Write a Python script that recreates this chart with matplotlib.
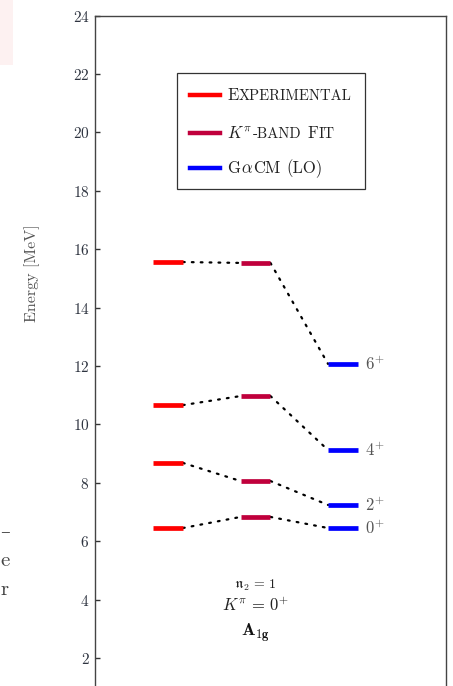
import matplotlib
matplotlib.use("Agg")
import matplotlib.pyplot as plt
from matplotlib.transforms import IdentityTransform
from matplotlib.patches import Rectangle

plt.rcParams["font.family"] = ["cmr10", "DejaVu Serif"]
plt.rcParams["mathtext.fontset"] = "cm"
plt.rcParams["axes.formatter.use_mathtext"] = True

# Level energies (MeV) for the A1g band, n2 = 1, K^pi = 0+
spins = ["0", "2", "4", "6"]
experimental = [6.45, 8.68, 10.66, 15.56]
band_fit = [6.83, 8.06, 10.97, 15.53]
gacm_lo = [6.45, 7.24, 9.12, 12.07]
y_ticks = [2, 4, 6, 8, 10, 12, 14, 16, 18, 20, 22, 24]

C_EXP = "#ff0000"
C_FIT = "#c0003c"
C_GACM = "#0000ff"

W, H, DPI = 453, 686, 100
fig = plt.figure(figsize=(W / DPI, H / DPI), dpi=DPI)
ax = fig.add_axes([95 / W, 0.0, (446 - 95) / W, (686 - 15.6) / H])

ax.set_xlim(-0.834, 3.177)
ax.set_ylim(1.04, 24)

half = 0.171
columns = [(0, experimental, C_EXP), (1, band_fit, C_FIT), (2, gacm_lo, C_GACM)]
for xc, vals, col in columns:
    for v in vals:
        ax.plot([xc - half, xc + half], [v, v], color=col, lw=3.4,
                solid_capstyle="butt", zorder=3)

# dotted connectors between matching levels
for (x0, v0, _), (x1, v1, _) in zip(columns[:-1], columns[1:]):
    for a, b in zip(v0, v1):
        ax.plot([x0 + half, x1 - half], [a, b], color="black", lw=1.6,
                ls=(0, (0.8, 3.2)), dash_capstyle="round", zorder=2)

for s, v in zip(spins, gacm_lo):
    ax.text(2 + half + 0.08, v, rf"${s}^{{\!+}}$", fontsize=12, color="#555555",
            va="center", ha="left")

ax.text(1, 4.5, r"$\mathfrak{n}_2\,=\,1$", fontsize=10, ha="center",
        va="center", color="#222222")
ax.text(1, 3.81, r"$K^{\pi}\,=\,0^{+}$", fontsize=12, ha="center",
        va="center", color="#222222")
ax.text(1, 2.85, r"$\mathbf{A_{1g}}$", fontsize=13, ha="center",
        va="center", color="#111111")

ax.set_yticks(y_ticks)
ax.set_xticks([])
ax.tick_params(axis="y", direction="in", length=3.8, width=1.0,
               labelsize=11, labelcolor="#2e3440", color="#333333",
               left=True, right=False, pad=4)
for side in ["left", "right", "top"]:
    ax.spines[side].set_color("#444444")
    ax.spines[side].set_linewidth(1.0)
ax.spines["bottom"].set_visible(False)

ax.set_ylabel("Energy [MeV]", fontsize=11.5, color="#555555")
ax.yaxis.set_label_coords(-0.157, 0.616)

# legend drawn in pixel space so small-caps pieces can be chained
renderer = fig.canvas.get_renderer()


def run(x, y_top, pieces, color="#222222"):
    y = H - y_top
    for text, size in pieces:
        if text == " ":
            x += size * 0.33 * DPI / 72
            continue
        t = fig.text(x, y, text, fontsize=size, transform=IdentityTransform(),
                     va="baseline", ha="left", color=color, zorder=8)
        x = t.get_window_extent(renderer).x1 + 0.6


box = Rectangle((177, H - 189), 365 - 177, 189 - 73, transform=IdentityTransform(),
                fill=True, facecolor="white", edgecolor="#333333", lw=0.9,
                zorder=5)
fig.add_artist(box)

big, small = 12, 10.6
rows = [
    (95, C_EXP, [("E", big), ("XPERIMENTAL", small)]),
    (133, C_FIT, [(r"$K^{\pi}$", big), ("-BAND", small), (" ", big),
                  ("F", big), ("IT", small)]),
    (168, C_GACM, [("G", big), (r"$\alpha$", big), ("CM", big), (" ", big),
                   ("(LO)", big)]),
]
for yc, col, pieces in rows:
    fig.add_artist(plt.Line2D([190, 220], [H - yc, H - yc], color=col, lw=3.2,
                              transform=IdentityTransform(), zorder=6))
    run(227, yc + 5, pieces)

# page margin fragments at the left edge
fig.add_artist(Rectangle((0, H - 65), 13, 65, transform=IdentityTransform(),
                         facecolor="#fdf1f1", edgecolor="none", zorder=0))
fig.text(0.5, H - 532, "–", fontsize=14, color="#444444",
         transform=IdentityTransform(), va="center")
fig.text(0.5, H - 561, "e", fontsize=15, color="#444444",
         transform=IdentityTransform(), va="center")
fig.text(0.5, H - 590, "r", fontsize=15, color="#444444",
         transform=IdentityTransform(), va="center")

fig.savefig("out.png", dpi=DPI)
